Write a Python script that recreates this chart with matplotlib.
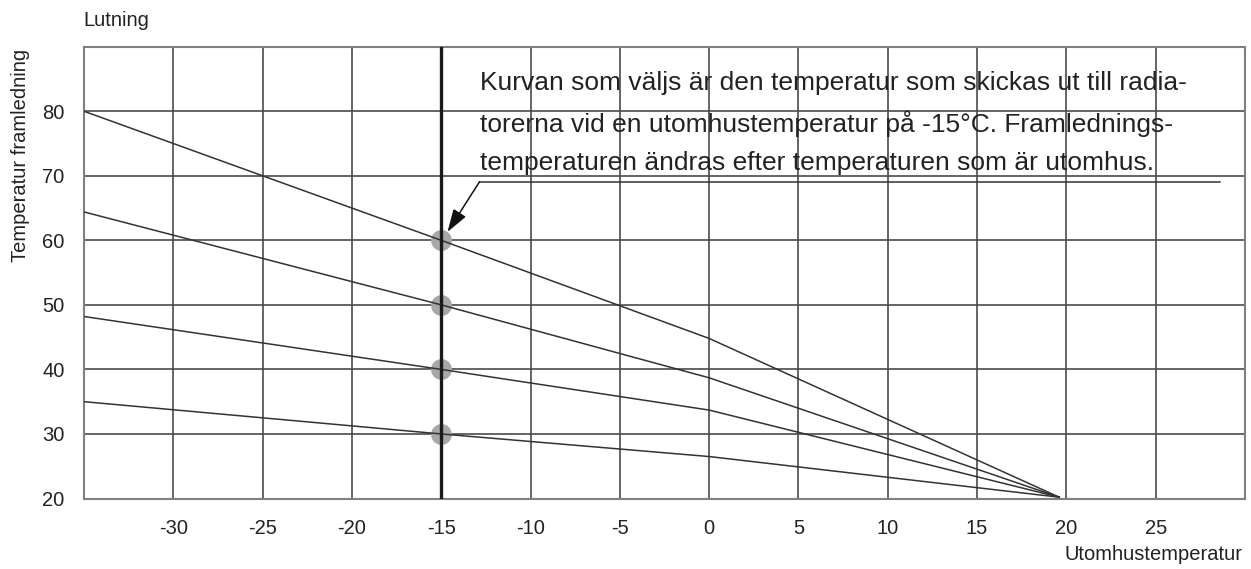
import matplotlib
matplotlib.use("Agg")
import matplotlib.pyplot as plt

plt.rcParams['font.family'] = ['Liberation Sans', 'DejaVu Sans']

# Data
x_points = [-35, -15, 0, 19.6]
curve_1 = [80.0, 60.0, 44.8, 20.2]
curve_2 = [64.4, 50.0, 38.7, 20.2]
curve_3 = [48.2, 40.0, 33.7, 20.2]
curve_4 = [35.0, 30.0, 26.5, 20.2]
curves = [curve_1, curve_2, curve_3, curve_4]

marker_x = [-15, -15, -15, -15]
marker_y = [60, 50, 40, 30]

x_ticks = [-30, -25, -20, -15, -10, -5, 0, 5, 10, 15, 20, 25]
y_ticks = [20, 30, 40, 50, 60, 70, 80]
selected_x = -15

note_lines = [
    "Kurvan som väljs är den temperatur som skickas ut till radia-",
    "torerna vid en utomhustemperatur på -15°C. Framlednings-",
    "temperaturen ändras efter temperaturen som är utomhus.",
]

fig = plt.figure(figsize=(12.51, 5.69), dpi=100)
ax = fig.add_axes([84/1251, 1 - 498.5/569, (1245-84)/1251, (498.5-46.7)/569])
ax.set_xlim(-35, 30)
ax.set_ylim(20, 90)

grid_col = '#4a4a4a'
for xv in x_ticks:
    if xv == selected_x:
        continue
    ax.axvline(xv, color=grid_col, lw=1.2, zorder=1)
for yv in y_ticks[1:]:
    ax.axhline(yv, color=grid_col, lw=1.2, zorder=1)
ax.axvline(selected_x, color='#1a1a1a', lw=2.4, zorder=4)

for c in curves:
    ax.plot(x_points, c, color='#333333', lw=1.1, zorder=3)

ax.plot(marker_x, marker_y, 'o', ms=15, color='#a8a8a8', mec='none', zorder=2)

for s in ax.spines.values():
    s.set_color('#808080')
    s.set_linewidth(1.5)

ax.set_xticks(x_ticks)
ax.set_yticks(y_ticks)
ax.set_xticklabels([str(v) for v in x_ticks])
ax.set_yticklabels([str(v) for v in y_ticks])
ax.tick_params(axis='both', length=0, labelsize=14.5, colors='#222222')
ax.tick_params(axis='x', pad=15)
ax.tick_params(axis='y', pad=14)

# annotation
line_y = [84.4, 78.1, 72.0]
for yy, t in zip(line_y, note_lines):
    ax.text(-12.85, yy, t, fontsize=19, color='#222222', va='center', ha='left', zorder=5)
ax.plot([-12.85, 28.6], [69.1, 69.1], color='#333333', lw=1.1, zorder=3)
ax.annotate('', xy=(-14.65, 61.3), xytext=(-12.85, 69.1),
            arrowprops=dict(arrowstyle='-|>,head_length=1.4,head_width=0.45',
                            color='#111111', lw=1.1, shrinkA=0, shrinkB=0), zorder=5)

fig.text(83/1251, 1 - 20/569, "Lutning", fontsize=14.5, color='#222222', ha='left', va='center')
fig.text(21/1251, 1 - 155/569, "Temperatur framledning", fontsize=14.5, color='#222222',
         rotation=90, ha='center', va='center')
fig.text(1242/1251, 1 - 555/569, "Utomhustemperatur", fontsize=14.5, color='#222222',
         ha='right', va='center')

fig.savefig('out.png', dpi=100)
